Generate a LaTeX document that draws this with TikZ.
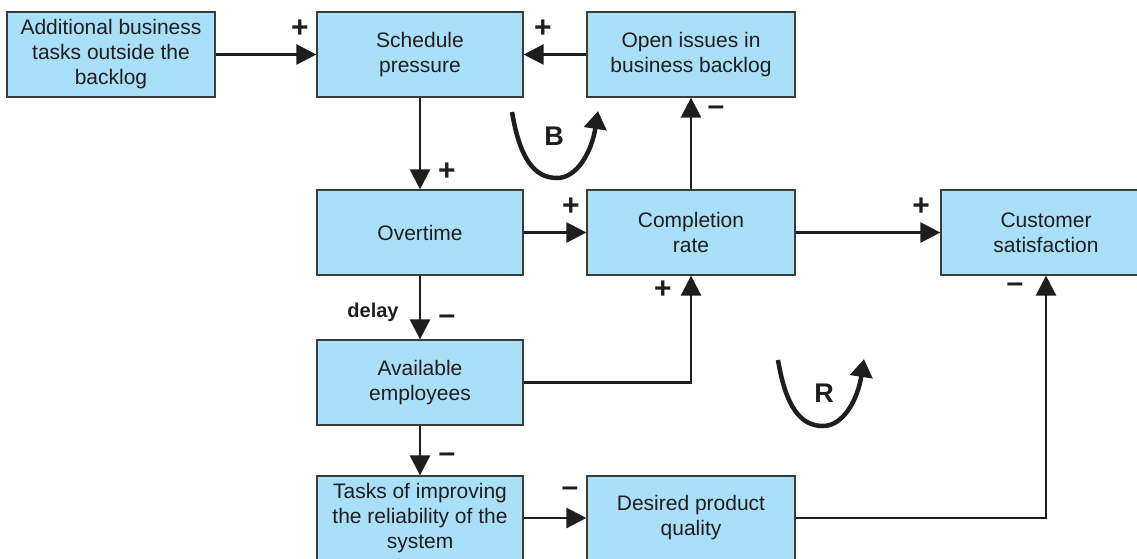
\documentclass[tikz,border=0pt]{standalone}
\usepackage{fontspec}
\setmainfont{Liberation Sans}
\usetikzlibrary{arrows.meta}
\definecolor{boxfill}{RGB}{170,223,249}
\definecolor{boxline}{RGB}{60,60,60}
\definecolor{ink}{RGB}{30,30,30}
\tikzset{
  block/.style={draw=boxline, fill=boxfill, line width=1.2pt, minimum height=85pt,
    align=center, inner sep=0pt, font=\fontsize{21}{25}\selectfont, text=ink},
  link/.style={draw=ink, line width=2.5pt, -{Triangle[length=20pt,width=20pt]}},
  sign/.style={font=\fontsize{30}{30}\selectfont\bfseries, text=ink, inner sep=0pt},
  looparrow/.style={draw=ink, line width=4.5pt, -{Triangle[length=18pt,width=22pt]}},
  pics/loopmark/.style={code={
    \draw[looparrow] (0,0) .. controls (8,48) and (23,66) .. (45,66)
      .. controls (66,66) and (80,38) .. (86,-1);}},
}
\begin{document}
\begin{tikzpicture}[x=1pt,y=-1pt]
\useasboundingbox (0,0) rectangle (1137,558);
\clip (0,0) rectangle (1137,558);

% blocks
\node[block, minimum width=208pt] (add) at (111,54.5) {Additional business\\tasks outside the\\backlog};
\node[block, minimum width=206pt] (sched) at (420,54.5) {Schedule\\pressure};
\node[block, minimum width=208pt] (open) at (691,54.5) {Open issues in\\business backlog};
\node[block, minimum width=206pt] (over) at (420,232.5) {Overtime};
\node[block, minimum width=208pt] (comp) at (691,232.5) {Completion\\rate};
\node[block, minimum width=210pt] (cust) at (1046,232.5) {Customer\\satisfaction};
\node[block, minimum width=206pt] (avail) at (420,382.5) {Available\\employees};
\node[block, minimum width=206pt, minimum height=84pt] (tasks) at (420,518) {Tasks of improving\\the reliability of the\\system};
\node[block, minimum width=208pt, minimum height=84pt] (desired) at (691,518) {Desired product\\quality};

% causal links
\draw[link] (add.east) -- (sched.west);
\draw[link] (open.west) -- (sched.east);
\draw[link] (sched.south) -- (over.north);
\draw[link] (comp.north) -- (open.south);
\draw[link] (over.east) -- (comp.west);
\draw[link] (comp.east) -- (cust.west);
\draw[link] (over.south) -- (avail.north);
\draw[link] (avail.east) -| (comp.south);
\draw[link] (avail.south) -- (tasks.north);
\draw[link] (tasks.east) -- (desired.west);
\draw[link] (desired.east) -| (cust.south);

% polarities
\node[sign] (p1) at (300,29) {+};
\node[sign] (p2) at (543,29) {+};
\node[sign] (p3) at (447,172) {+};
\node[sign] (m1) at (716,111) {–};
\node[sign] (p4) at (571,207) {+};
\node[sign] (p5) at (921,207) {+};
\node[font=\fontsize{20}{20}\selectfont\bfseries, text=ink] (dl) at (373,312) {delay};
\node[sign] (m2) at (447,320) {–};
\node[sign] (p6) at (663,290) {+};
\node[sign] (m3) at (447,458) {–};
\node[sign] (m4) at (570,492) {–};
\node[sign] (m5) at (1015,288) {–};

% loop markers
\pic at (512,112) {loopmark};
\node[font=\fontsize{27}{27}\selectfont\bfseries, text=ink] (lb) at (554,136) {B};
\pic at (778,360) {loopmark};
\node[font=\fontsize{27}{27}\selectfont\bfseries, text=ink] (lr) at (824,393) {R};
\end{tikzpicture}
\end{document}
